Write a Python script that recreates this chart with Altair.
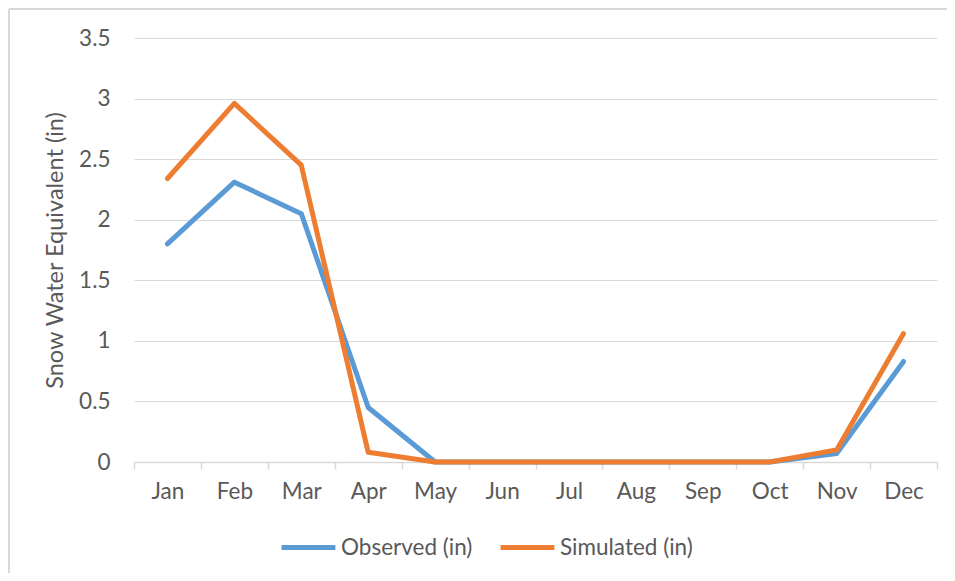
import altair as alt
import pandas as pd

months = ["Jan", "Feb", "Mar", "Apr", "May", "Jun", "Jul", "Aug", "Sep", "Oct", "Nov", "Dec"]
observed = [1.80, 2.31, 2.05, 0.45, 0.0, 0.0, 0.0, 0.0, 0.0, 0.0, 0.07, 0.83]
simulated = [2.34, 2.96, 2.45, 0.08, 0.0, 0.0, 0.0, 0.0, 0.0, 0.0, 0.10, 1.06]
series_names = ["Observed (in)", "Simulated (in)"]
series_colors = ["#5B9BD5", "#ED7D31"]

rows = []
for name, vals in zip(series_names, [observed, simulated]):
    for m, v in zip(months, vals):
        rows.append({"Month": m, "Value": v, "Series": name})
df = pd.DataFrame(rows)

FONT = "Lato"
TXT = "#595959"

lines = alt.Chart(df).mark_line(strokeWidth=5, strokeCap="round", strokeJoin="round").encode(
    x=alt.X("Month:N", sort=months, bandPosition=0.5,
            scale=alt.Scale(type="band", paddingInner=0, paddingOuter=0),
            axis=alt.Axis(title=None, labelAngle=0, tickBand="extent", grid=False,
                          domainColor="#d9d9d9", domainWidth=1.5, tickColor="#d9d9d9",
                          tickWidth=1.5, tickSize=7, labelPadding=11,
                          labelFont=FONT, labelFontSize=22.5, labelColor=TXT)),
    y=alt.Y("Value:Q", scale=alt.Scale(domain=[0, 3.5], nice=False),
            axis=alt.Axis(title="Snow Water Equivalent (in)", values=[0, 0.5, 1, 1.5, 2, 2.5, 3, 3.5],
                          format="~g", domain=False, ticks=False, labelPadding=24,
                          gridColor="#d9d9d9", gridWidth=1.2,
                          labelFont=FONT, labelFontSize=22.5, labelColor=TXT,
                          titleFont=FONT, titleFontSize=23.5, titleColor=TXT,
                          titleFontWeight="normal", titlePadding=11)),
    color=alt.Color("Series:N", scale=alt.Scale(domain=series_names, range=series_colors),
                    legend=alt.Legend(title=None, orient="none", direction="horizontal",
                                      legendX=145, legendY=480, symbolType="stroke",
                                      symbolSize=2900, symbolStrokeWidth=5,
                                      labelFont=FONT, labelFontSize=22.5, labelColor=TXT,
                                      labelOffset=3, columnPadding=17)),
)

border_top = alt.Chart(pd.DataFrame({"a": [0]})).mark_rule(color="#d9d9d9", strokeWidth=2).encode(
    x=alt.value(-125), x2=alt.value(820), y=alt.value(-29)
)
border_left = alt.Chart(pd.DataFrame({"a": [0]})).mark_rule(color="#d9d9d9", strokeWidth=2).encode(
    x=alt.value(-125), y=alt.value(-29), y2=alt.value(540)
)

chart = alt.layer(border_top, border_left, lines).properties(
    width=803, height=424,
    autosize=alt.AutoSizeParams(type="none"),
    padding={"left": 126, "top": 30, "right": 10, "bottom": 111},
    background="white",
).configure_view(stroke=None)

chart.save("out.html", embed_options={"renderer": "svg", "actions": False})
